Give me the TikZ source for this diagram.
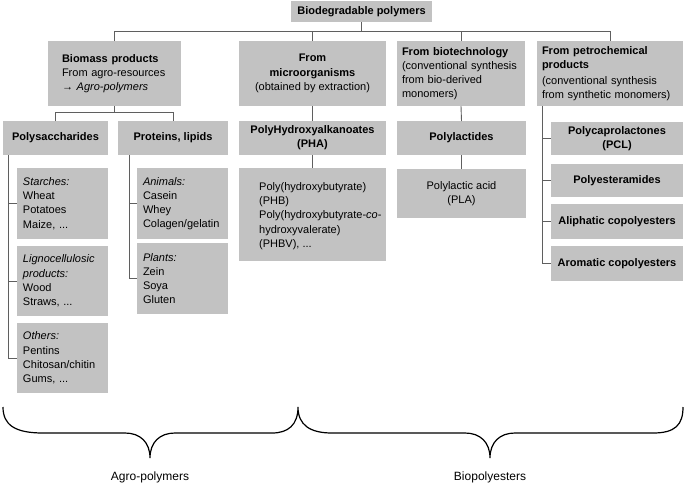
\documentclass[tikz,border=0pt]{standalone}
\usepackage{fontspec}
\setmainfont{Liberation Sans}
\definecolor{boxgray}{RGB}{194,194,194}
\definecolor{linegray}{RGB}{95,95,95}
\newcommand\mysz{\fontsize{11}{14.2}\selectfont}
\newcommand\mybf{\fontsize{11}{14.2}\selectfont\bfseries}
\tikzset{
  every node/.style={font=\mysz},
  box/.style={rectangle, fill=boxgray, draw=none, inner sep=0pt, outer sep=0pt},
  bbox/.style={box, font=\mybf, align=center},
  conn/.style={draw=linegray, line width=0.9pt},
  brace/.style={draw=black, line width=1.2pt},
}
\begin{document}
\begin{tikzpicture}[x=1pt,y=-1pt]
\useasboundingbox (0,0) rectangle (685,485);

% top level
\node[bbox, minimum width=141, minimum height=21] (top) at (361.5,11.5) {Biodegradable polymers};

% second level
\node[box, minimum width=133, minimum height=65, text width=105, inner xsep=14, align=left] (bio) at (114.5,73.5)
  {\textbf{Biomass products}\\From agro-resources\\→ \textit{Agro-polymers}};
\node[box, minimum width=147, minimum height=65, align=center] (micro) at (312.5,73.5)
  {\textbf{From}\\\textbf{microorganisms}\\(obtained by extraction)};
\node[box, minimum width=128, minimum height=65, text width=118, inner xsep=5, align=left] (biotech) at (461,73.5)
  {\textbf{From biotechnology}\\(conventional synthesis\\from bio-derived\\monomers)};
\node[box, minimum width=146, minimum height=65, text width=136, inner xsep=5, align=left] (petro) at (610,73.5)
  {\textbf{From petrochemical}\\\textbf{products}\\[1.5pt](conventional synthesis\\from synthetic monomers)};

% third level
\node[bbox, minimum width=105, minimum height=34] (poly) at (55.5,138) {Polysaccharides};
\node[bbox, minimum width=110, minimum height=34] (prot) at (173,138) {Proteins, lipids};
\node[bbox, minimum width=147, minimum height=34] (pha) at (312.5,138) {PolyHydroxyalkanoates\\(PHA)};
\node[bbox, minimum width=129, minimum height=34] (pla) at (461.5,138) {Polylactides};
\node[bbox, minimum width=132, minimum height=33] (pcl) at (617,138.5) {Polycaprolactones\\(PCL)};
\node[bbox, minimum width=132, minimum height=33] (pea) at (617,180.5) {Polyesteramides};
\node[bbox, minimum width=132, minimum height=35] (ali) at (617,221.5) {Aliphatic copolyesters};
\node[bbox, minimum width=132, minimum height=35] (aro) at (617,263.5) {Aromatic copolyesters};

% fourth level
\tikzset{lbox/.style={box, minimum width=91, text width=79, inner xsep=6, align=left}}
\node[lbox, minimum height=71] (starch) at (62.5,203.5) {\textit{Starches:}\\Wheat\\Potatoes\\Maize, ...};
\node[lbox, minimum height=70] (ligno) at (62.5,281) {\textit{Lignocellulosic}\\\textit{products:}\\Wood\\Straws, ...};
\node[lbox, minimum height=70] (others) at (62.5,358) {\textit{Others:}\\Pentins\\Chitosan/chitin\\Gums, ...};
\node[lbox, minimum height=71] (animals) at (182.5,203.5) {\textit{Animals:}\\Casein\\Whey\\Colagen/gelatin};
\node[lbox, minimum height=71] (plants) at (182.5,278.5) {\textit{Plants:}\\Zein\\Soya\\Gluten};

\node[box, minimum width=147, minimum height=93] (phab) at (312.5,214.5) {};
\node[anchor=west, align=left, inner sep=0pt] (phat) at ([xshift=20pt,yshift=-1.5pt]phab.west)
  {Poly(hydroxybutyrate)\\(PHB)\\Poly(hydroxybutyrate-\textit{co}-\\hydroxyvalerate)\\(PHBV), ...};
\node[box, minimum width=129, minimum height=49, align=center] (plab) at (461.5,193.5) {Polylactic acid\\(PLA)};

% connectors
\coordinate (bus) at (0,31);
\draw[conn] (top.south) -- (top.south |- bus);
\draw[conn] (bio.north) -- (bio.north |- bus) -- (petro.north |- bus) -- (petro.north);
\draw[conn] (micro.north) -- (micro.north |- bus);
\draw[conn] (biotech.north) -- (biotech.north |- bus);

\coordinate (bus2) at (0,112);
\draw[conn] (bio.south) -- (bio.south |- bus2);
\draw[conn] (poly.north) -- (poly.north |- bus2) -- (prot.north |- bus2) -- (prot.north);

\draw[conn] (micro.south) -- (pha.north);
\draw[conn] (pha.south) -- (phab.north);
\draw[conn] (biotech.south) -- (pla.north);
\draw[conn] (pla.south) -- (plab.north);

\coordinate (pspine) at (542,0);
\draw[conn] (petro.south -| pspine) -- (aro.west -| pspine) -- (aro.west);
\draw[conn] (pcl.west -| pspine) -- (pcl.west);
\draw[conn] (pea.west -| pspine) -- (pea.west);
\draw[conn] (ali.west -| pspine) -- (ali.west);

\coordinate (sspine) at (8,0);
\draw[conn] (poly.south -| sspine) -- (others.west -| sspine) -- (others.west);
\draw[conn] (starch.west -| sspine) -- (starch.west);
\draw[conn] (ligno.west -| sspine) -- (ligno.west);

\coordinate (rspine) at (129,0);
\draw[conn] (prot.south -| rspine) -- (plants.west -| rspine) -- (plants.west);
\draw[conn] (animals.west -| rspine) -- (animals.west);

% braces
\draw[brace] (3,407) .. controls (3,425) and (15,433) .. (43,433) -- (125,433)
  .. controls (140,433) and (150,442) .. (150,458)
  .. controls (150,442) and (160,433) .. (175,433) -- (272,433)
  .. controls (288,433) and (298,425) .. (298,407)
  .. controls (298,425) and (310,433) .. (332,433) -- (465,433)
  .. controls (480,433) and (490,442) .. (490,458)
  .. controls (490,442) and (500,433) .. (515,433) -- (653,433)
  .. controls (675,433) and (683,425) .. (683,407);

\node[font=\fontsize{12}{14}\selectfont] (lagro) at (150,477) {Agro-polymers};
\node[font=\fontsize{12}{14}\selectfont] (lbiop) at (490,477) {Biopolyesters};
\end{tikzpicture}
\end{document}
